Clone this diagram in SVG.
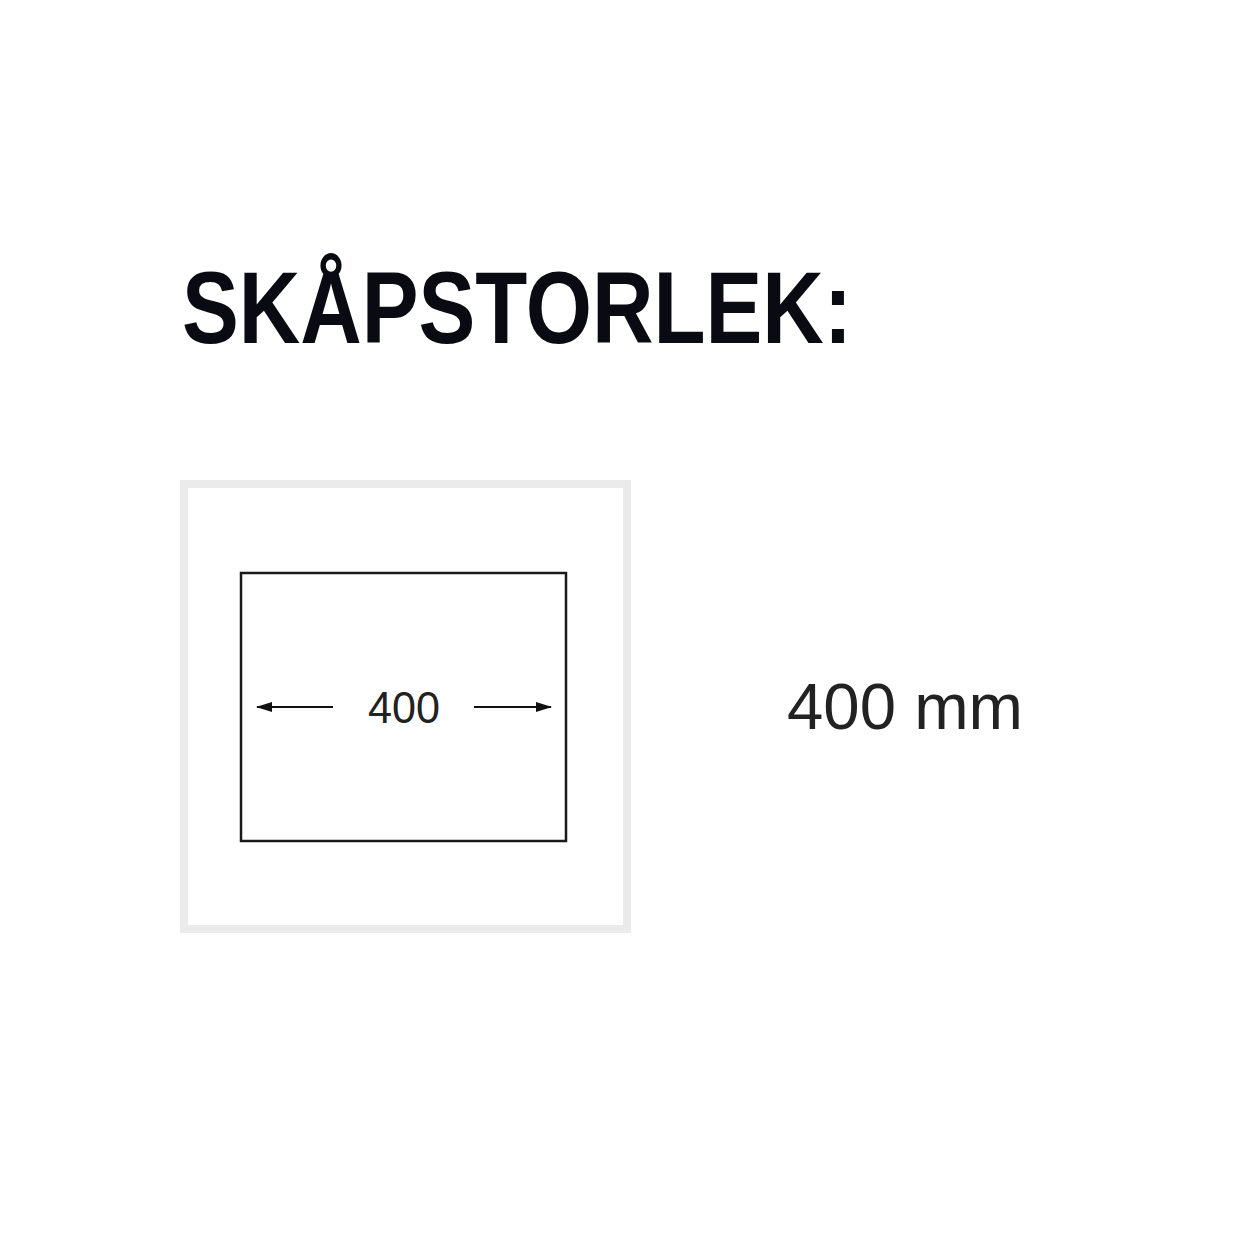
<svg xmlns="http://www.w3.org/2000/svg" width="1240" height="1240" viewBox="0 0 1240 1240">
<style>
.title{font-family:"Liberation Sans",Arial,sans-serif;font-weight:bold;fill:#0a0a12}
.lbl{font-family:"Liberation Sans",Arial,sans-serif;fill:#222}
.dim{stroke:#111;stroke-width:2;fill:none}
</style>
<defs>
<marker id="ah" viewBox="0 0 16 11" refX="15" refY="5.5" markerWidth="16" markerHeight="11" markerUnits="userSpaceOnUse" orient="auto">
<path d="M0,0.5 L16,5.5 L0,10.5 Z" fill="#111"/>
</marker>
</defs>
<rect width="1240" height="1240" fill="#fff"/>
<g id="title"><text class="title" x="182" y="343" font-size="102" textLength="670" lengthAdjust="spacingAndGlyphs">SKÅPSTORLEK:</text></g>
<g id="frame"><rect x="184" y="484" width="443" height="445" fill="none" stroke="#ebebeb" stroke-width="8"/></g>
<g id="cabinet">
<rect x="241" y="573" width="325" height="268" fill="none" stroke="#1a1a1a" stroke-width="2.5"/>
<text class="lbl" x="404" y="723" font-size="44" text-anchor="middle" textLength="72" lengthAdjust="spacingAndGlyphs">400</text>
</g>
<g id="connectors">
<line class="dim" x1="333" y1="707" x2="257" y2="707" marker-end="url(#ah)"/>
<line class="dim" x1="474" y1="707" x2="551" y2="707" marker-end="url(#ah)"/>
</g>
<g id="size"><text class="lbl" x="787" y="729" font-size="64" textLength="236" lengthAdjust="spacingAndGlyphs">400 mm</text></g>
</svg>
